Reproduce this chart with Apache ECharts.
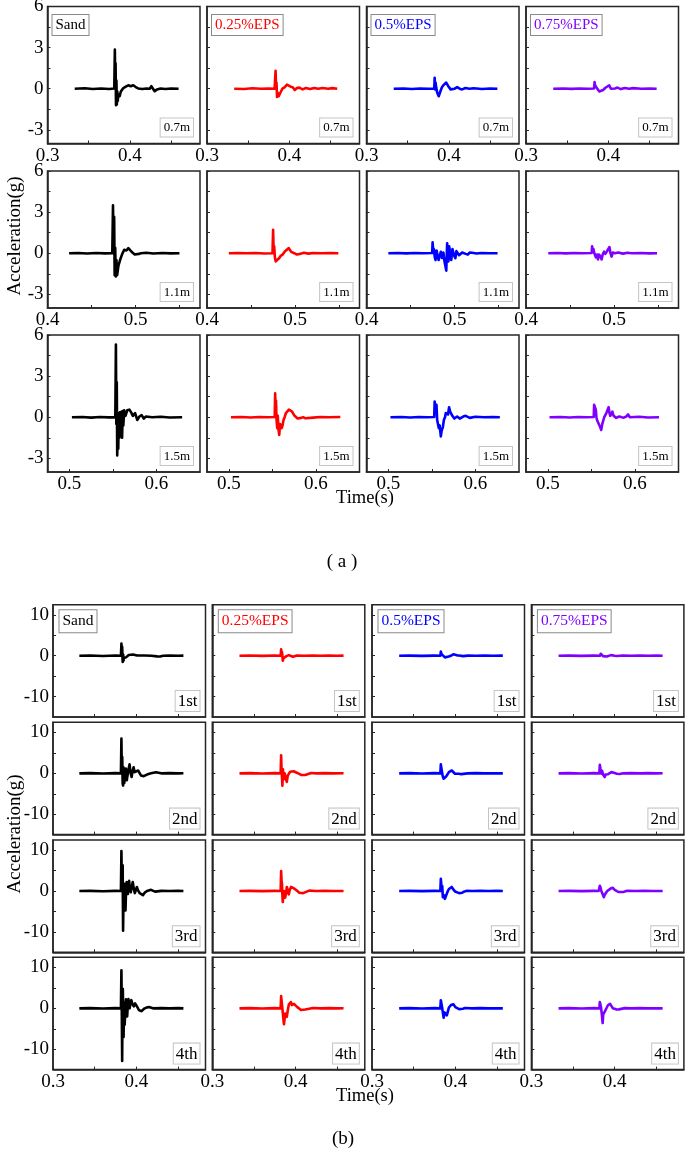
<!DOCTYPE html>
<html>
<head>
<meta charset="utf-8">
<style>
  html, body { margin: 0; padding: 0; background: #fff; }
  #main { width: 685px; height: 1156px; }
</style>
<script src="https://cdn.jsdelivr.net/npm/echarts@6.0.0/dist/echarts.min.js"></script>
</head>
<body>
<div id="main"></div>
<script>
// ---- data: [time (s), acceleration (g)] ----
// (a) depth 0.7m
const sand07 = [[0.333,0],[0.345,0.03],[0.355,-0.02],[0.365,0.02],[0.375,-0.02],[0.381,0.02],[0.3817,2.85],[0.3822,0.5],[0.3826,1.85],[0.3831,-1.2],[0.3836,0.6],[0.3841,-1.15],[0.3847,-0.2],[0.3852,-0.9],[0.386,-0.4],[0.3875,-0.55],[0.389,-0.2],[0.392,0.05],[0.395,0.15],[0.398,0.25],[0.401,0.18],[0.404,0.25],[0.407,0.12],[0.41,0.02],[0.415,-0.02],[0.42,0.02],[0.424,0],[0.426,0.18],[0.428,0],[0.43,-0.18],[0.433,-0.05],[0.437,0.02],[0.443,-0.02],[0.45,0.02],[0.459,0]]
const eps025_07 = [[0.333,0],[0.345,-0.02],[0.355,0.03],[0.365,0],[0.375,0.02],[0.382,0],[0.3832,1.3],[0.3838,0],[0.3843,0.45],[0.385,-0.6],[0.3858,-0.3],[0.387,-0.55],[0.389,-0.3],[0.3915,0],[0.394,0.1],[0.397,0.3],[0.399,0.35],[0.4015,0.15],[0.404,0.1],[0.4065,-0.1],[0.409,0.05],[0.412,0.08],[0.416,-0.05],[0.42,0.05],[0.425,-0.03],[0.43,0.05],[0.435,0],[0.44,0.05],[0.447,0],[0.452,0.04],[0.458,0]]
const eps05_07 = [[0.333,0],[0.345,0.02],[0.355,-0.02],[0.365,0.02],[0.375,0],[0.3822,0.02],[0.3827,0.8],[0.3833,-0.05],[0.3838,0.45],[0.3845,0.1],[0.3858,-0.3],[0.3876,-0.55],[0.389,-0.3],[0.3915,0.1],[0.394,0.3],[0.3967,0.45],[0.399,0.2],[0.402,-0.05],[0.404,-0.15],[0.407,0],[0.41,0.12],[0.413,0],[0.416,-0.05],[0.42,0.05],[0.425,0],[0.43,0.03],[0.44,-0.02],[0.45,0.02],[0.4588,0]]
const eps075_07 = [[0.333,0],[0.345,0.02],[0.355,-0.01],[0.365,0.02],[0.375,0],[0.3826,0.02],[0.3832,0.48],[0.3838,0.25],[0.385,0.2],[0.387,-0.05],[0.389,-0.2],[0.3913,-0.3],[0.3935,-0.1],[0.396,0.05],[0.398,-0.05],[0.401,0.25],[0.403,0],[0.405,0.12],[0.408,0.02],[0.411,0.08],[0.415,-0.03],[0.42,0.05],[0.425,0],[0.43,0.04],[0.44,0],[0.45,0.02],[0.4585,0]]
// (a) depth 1.1m
const sand11 = [[0.4245,0],[0.435,0.02],[0.445,-0.02],[0.455,0.02],[0.465,-0.01],[0.4735,0],[0.4743,3.5],[0.475,0.2],[0.4756,2.65],[0.4762,-1.6],[0.4768,0.4],[0.4775,-1.7],[0.4782,-0.5],[0.479,-1.6],[0.4805,-0.9],[0.4823,-0.5],[0.4845,-0.1],[0.487,0.25],[0.4895,0.2],[0.4917,0.37],[0.494,0.2],[0.4963,0.05],[0.499,-0.1],[0.501,-0.17],[0.5035,-0.05],[0.506,0],[0.512,0.03],[0.52,-0.02],[0.53,0.02],[0.54,-0.01],[0.5497,0]]
const eps025_11 = [[0.4248,0],[0.435,0.02],[0.445,0],[0.455,0.02],[0.465,-0.02],[0.4743,0],[0.475,1.7],[0.4756,0.1],[0.4762,0.5],[0.477,-0.3],[0.478,-0.6],[0.4801,-0.7],[0.482,-0.35],[0.4835,-0.2],[0.4858,-0.1],[0.4885,0.15],[0.4905,0.2],[0.4928,0.37],[0.4955,0.1],[0.499,0],[0.502,-0.1],[0.505,-0.05],[0.51,0.03],[0.515,-0.03],[0.52,0.02],[0.53,0],[0.54,0.02],[0.549,0]]
const eps05_11 = [[0.4248,0],[0.435,0.02],[0.445,-0.01],[0.455,0.02],[0.465,0],[0.4745,0.02],[0.475,0.8],[0.4758,0.1],[0.4764,0.3],[0.4775,-0.3],[0.4783,-0.5],[0.4795,0.2],[0.4807,0.25],[0.4818,-0.5],[0.483,-0.6],[0.4843,0.1],[0.4858,-0.35],[0.4872,0.05],[0.4885,-0.6],[0.4897,-0.5],[0.4905,-1.27],[0.4915,0.73],[0.4922,-0.3],[0.4929,-0.6],[0.4938,0.5],[0.4947,0.6],[0.4955,-0.2],[0.4961,-0.5],[0.4975,0.3],[0.4985,0.37],[0.4995,-0.2],[0.5008,-0.37],[0.502,0.15],[0.5032,0.25],[0.505,-0.15],[0.5065,-0.25],[0.5085,0.05],[0.5102,0.12],[0.5125,-0.05],[0.5149,-0.1],[0.517,0.05],[0.5196,0.03],[0.525,-0.02],[0.53,0.02],[0.54,0],[0.5487,0]]
const eps075_11 = [[0.4253,0],[0.435,0.02],[0.445,-0.01],[0.455,0.02],[0.465,0],[0.4745,0.02],[0.475,0.5],[0.4758,0.15],[0.4765,0.3],[0.4775,0],[0.4793,-0.3],[0.4805,-0.1],[0.4816,-0.45],[0.4828,-0.1],[0.484,0],[0.4848,-0.3],[0.4858,-0.45],[0.487,-0.1],[0.4886,0.12],[0.49,-0.05],[0.4915,0.1],[0.4932,0.3],[0.4947,0.45],[0.4958,0],[0.4971,-0.25],[0.4985,0.05],[0.4994,0.17],[0.501,0],[0.5027,-0.08],[0.5045,0.05],[0.5065,0.07],[0.51,-0.03],[0.515,0.03],[0.52,0],[0.53,0.02],[0.54,-0.01],[0.5487,0]]
// (a) depth 1.5m
const sand15 = [[0.503,0],[0.515,0.02],[0.525,-0.03],[0.535,0.02],[0.545,-0.01],[0.5528,0],[0.5535,5.3],[0.554,-0.5],[0.5545,2.55],[0.555,-2.8],[0.5556,-0.5],[0.5562,-2.3],[0.5568,0.3],[0.5575,-1.5],[0.5582,0.35],[0.559,-1.1],[0.5598,0.4],[0.5606,-1.5],[0.5613,0.45],[0.562,-0.6],[0.563,0.5],[0.5645,0.1],[0.5665,0.5],[0.569,0.55],[0.571,0.35],[0.573,0.1],[0.5755,0.3],[0.578,-0.2],[0.5805,0.05],[0.583,0.15],[0.5855,-0.1],[0.588,0.05],[0.595,0],[0.605,0.03],[0.615,-0.02],[0.6295,0]]
const eps025_15 = [[0.5025,0],[0.515,0.02],[0.525,-0.02],[0.535,0.02],[0.545,0],[0.5527,0.02],[0.5532,1.75],[0.5538,0.5],[0.5542,1.2],[0.5548,-0.2],[0.5556,-0.8],[0.5562,0.1],[0.5571,-0.9],[0.5579,-1.3],[0.5588,-0.5],[0.5598,-0.45],[0.5607,-0.8],[0.5617,-0.6],[0.5628,-0.2],[0.5641,0],[0.5655,0.3],[0.5675,0.35],[0.569,0.55],[0.5703,0.6],[0.572,0.45],[0.5736,0.3],[0.5755,0.1],[0.5769,0],[0.579,-0.1],[0.5807,-0.15],[0.583,-0.05],[0.5854,0],[0.588,-0.08],[0.5902,0.03],[0.597,-0.03],[0.605,0.02],[0.615,0],[0.628,0.02]]
const eps05_15 = [[0.5025,0],[0.515,0.02],[0.525,-0.02],[0.535,0.02],[0.545,0],[0.5527,0.02],[0.5532,1.15],[0.554,0.7],[0.5546,0.55],[0.5553,0.9],[0.5561,-0.2],[0.558,-0.8],[0.559,-0.6],[0.5603,-1.4],[0.5612,-1],[0.5627,-0.7],[0.5638,-0.2],[0.5651,0],[0.566,0.3],[0.5674,0.4],[0.5685,0.2],[0.5698,0.73],[0.571,0.4],[0.5722,0.45],[0.5735,0.1],[0.5745,0.15],[0.5758,-0.1],[0.5769,-0.15],[0.579,0.05],[0.5807,0],[0.582,-0.1],[0.584,-0.05],[0.586,0.05],[0.5888,0.1],[0.591,-0.03],[0.5935,-0.05],[0.6,0.03],[0.61,0],[0.62,0.02],[0.628,0]]
const eps075_15 = [[0.502,0],[0.515,0.02],[0.525,-0.02],[0.535,0.02],[0.545,0],[0.5527,0.02],[0.5532,0.9],[0.5542,0.8],[0.5551,0.55],[0.5558,0],[0.5565,-0.2],[0.5577,-0.3],[0.5589,-0.55],[0.56,-0.7],[0.5613,-0.93],[0.5625,-0.5],[0.5636,-0.45],[0.5648,0],[0.566,0.1],[0.5672,0.3],[0.5684,0.4],[0.5698,0.73],[0.5708,0.3],[0.5717,0.1],[0.573,0.25],[0.5741,0.4],[0.5755,0.1],[0.5769,0],[0.5785,-0.05],[0.5802,-0.08],[0.582,0.05],[0.5835,0.1],[0.585,0],[0.5873,-0.03],[0.59,0.05],[0.5921,0.2],[0.594,0],[0.5959,0],[0.605,0.03],[0.615,-0.02],[0.6276,0]]
// (b) 1st test
const sand1st = [[0.3316,0],[0.345,0.05],[0.36,-0.05],[0.375,0.05],[0.3815,0],[0.3821,3],[0.3826,0.5],[0.383,2.2],[0.3836,-1.5],[0.3842,0.3],[0.3847,-1.2],[0.385,-0.6],[0.3862,-0.5],[0.3875,-0.4],[0.389,0],[0.3909,0.2],[0.3933,0.35],[0.396,0.3],[0.3982,0.15],[0.401,0.05],[0.403,0],[0.41,0.05],[0.418,0],[0.4249,-0.15],[0.4285,-0.2],[0.4322,0],[0.44,0.05],[0.45,0],[0.4565,0.02]]
const eps025_1st = [[0.3326,0],[0.345,0.05],[0.36,-0.03],[0.375,0.05],[0.382,0],[0.3826,1.55],[0.3832,0.3],[0.3837,0.9],[0.3846,-1.2],[0.3855,-0.6],[0.387,-0.4],[0.389,-0.1],[0.3918,0.15],[0.394,0.1],[0.3967,-0.25],[0.399,-0.1],[0.4016,0.05],[0.41,0],[0.42,0.05],[0.43,0],[0.44,0.03],[0.45,0],[0.4575,0.02]]
const eps05_1st = [[0.3326,0],[0.345,0.03],[0.36,-0.03],[0.375,0.03],[0.382,0],[0.3826,1],[0.3835,0.4],[0.385,0.2],[0.3875,-0.4],[0.3899,-0.6],[0.392,-0.2],[0.3948,0],[0.3975,0.35],[0.3996,0.5],[0.402,0.1],[0.4045,0.05],[0.4093,-0.1],[0.415,0.02],[0.425,0],[0.435,0.03],[0.445,0],[0.457,0.02]]
const eps075_1st = [[0.3326,0],[0.345,0.03],[0.36,-0.02],[0.375,0.03],[0.3825,0],[0.3831,0.5],[0.3845,0.2],[0.386,-0.1],[0.388,-0.3],[0.3905,-0.2],[0.3928,0],[0.3955,0.15],[0.3977,0.15],[0.4,0],[0.4025,-0.05],[0.41,0.05],[0.42,0],[0.43,0.03],[0.44,0],[0.45,0.02],[0.4575,0]]
// (b) 2nd test
const sand2nd = [[0.3316,0],[0.345,0.05],[0.36,-0.05],[0.375,0.05],[0.3815,0],[0.3821,8.5],[0.3826,0],[0.3831,4],[0.3836,-2.5],[0.3841,-3],[0.3846,1.5],[0.385,1.5],[0.3855,-2.4],[0.386,-2.4],[0.3868,0.5],[0.3875,1.2],[0.3885,-1.7],[0.3894,-1.7],[0.3905,0.8],[0.3919,2.2],[0.393,0.2],[0.3943,-0.9],[0.3955,0.5],[0.3967,1.5],[0.398,0.3],[0.3991,0],[0.4021,0.7],[0.4055,-0.5],[0.4089,-0.7],[0.4128,-0.3],[0.4176,0],[0.4235,0.25],[0.4298,0],[0.44,0.05],[0.45,0],[0.4565,0.02]]
const eps025_2nd = [[0.3326,0],[0.345,0.05],[0.36,-0.03],[0.375,0.05],[0.382,0],[0.3826,4.4],[0.3831,1],[0.3836,-0.9],[0.3841,-3],[0.3848,1],[0.3855,-1.5],[0.386,-1.7],[0.3868,0],[0.3875,-0.5],[0.3885,-1.5],[0.3894,-2.1],[0.3905,-0.6],[0.3918,-0.1],[0.3935,0.4],[0.3957,0.7],[0.3975,0.5],[0.3991,0.5],[0.402,0.1],[0.404,0],[0.4065,-0.4],[0.4089,-0.6],[0.4115,-0.4],[0.4137,-0.2],[0.4186,0.1],[0.425,0],[0.435,0.05],[0.445,0],[0.4575,0.02]]
const eps05_2nd = [[0.3326,0],[0.345,0.05],[0.36,-0.03],[0.375,0.05],[0.382,0],[0.3826,2.2],[0.3833,1.2],[0.3841,0.2],[0.385,-0.8],[0.386,-1.3],[0.3875,-1],[0.3889,-0.8],[0.3905,-0.3],[0.3923,0.3],[0.394,0.6],[0.3957,0.7],[0.3975,0.3],[0.3996,-0.1],[0.402,-0.1],[0.4045,-0.1],[0.407,-0.2],[0.4093,-0.25],[0.415,0],[0.425,0.05],[0.435,0],[0.445,0.03],[0.457,0]]
const eps075_2nd = [[0.3326,0],[0.345,0.05],[0.36,-0.03],[0.375,0.05],[0.3815,0],[0.3821,2.1],[0.3828,1.2],[0.3835,1],[0.3841,-0.1],[0.3848,0.6],[0.3855,0.7],[0.3863,-0.4],[0.388,-0.9],[0.389,-0.3],[0.3904,0.1],[0.392,-0.2],[0.3938,0.1],[0.396,0.3],[0.3977,0.4],[0.4,0.1],[0.4025,-0.1],[0.406,-0.15],[0.41,0],[0.42,0.05],[0.43,0],[0.44,0.05],[0.45,0],[0.4575,0.02]]
// (b) 3rd test
const sand3rd = [[0.3316,0],[0.345,0.05],[0.36,-0.05],[0.375,0.05],[0.3815,0],[0.3821,9.8],[0.3826,2],[0.3831,0],[0.3836,6.3],[0.3841,-9.7],[0.3846,-2],[0.385,-3.1],[0.3855,1],[0.386,1.8],[0.3865,-2.5],[0.387,-4.75],[0.3877,0.5],[0.3884,2.2],[0.389,0],[0.3899,-0.7],[0.3906,1.5],[0.3914,2.5],[0.3922,0.5],[0.3933,-0.3],[0.3945,1],[0.3957,2.2],[0.397,0.5],[0.3982,-0.5],[0.3995,0.3],[0.4006,1],[0.402,0.2],[0.404,-0.5],[0.406,-0.7],[0.4079,-1],[0.41,-0.4],[0.4128,0],[0.4176,0.3],[0.4225,-0.15],[0.43,0.05],[0.44,0],[0.45,0.05],[0.4565,0]]
const eps025_3rd = [[0.3326,0],[0.345,0.05],[0.36,-0.03],[0.375,0.05],[0.382,0],[0.3826,4.9],[0.3831,2.5],[0.3836,1.8],[0.3841,-1],[0.3846,-2.7],[0.3852,-1],[0.386,0],[0.3868,-1],[0.3875,-1.6],[0.3885,-0.5],[0.3894,1],[0.3905,0.2],[0.3918,-0.8],[0.393,0.3],[0.3945,1],[0.3957,1.2],[0.3975,0.7],[0.3991,0.6],[0.401,0.2],[0.4025,0],[0.4045,-0.4],[0.4064,-0.65],[0.409,-0.5],[0.4113,-0.3],[0.4162,0.1],[0.425,0],[0.435,0.05],[0.445,0],[0.4575,0.02]]
const eps05_3rd = [[0.3326,0],[0.345,0.05],[0.36,-0.03],[0.375,0.05],[0.382,0],[0.3826,3],[0.3831,1.8],[0.3836,0.3],[0.3843,1.2],[0.385,-1.5],[0.3862,-1],[0.3875,-1.9],[0.3887,-1.2],[0.3899,-0.9],[0.391,0],[0.3923,0.5],[0.394,0.9],[0.3957,1],[0.3975,0.4],[0.3996,-0.1],[0.402,-0.4],[0.4045,-0.5],[0.4084,-0.4],[0.411,-0.1],[0.4142,0.05],[0.42,0],[0.43,0.05],[0.44,0],[0.45,0.03],[0.457,0]]
const eps075_3rd = [[0.3326,0],[0.345,0.05],[0.36,-0.03],[0.375,0.05],[0.3807,0],[0.3821,1.3],[0.383,0.8],[0.3838,0.1],[0.3846,-0.2],[0.3858,-0.9],[0.387,-1.5],[0.388,-0.9],[0.3894,-0.5],[0.391,0],[0.3928,0.3],[0.395,0.6],[0.3977,0.8],[0.4,0.3],[0.4025,0],[0.405,-0.25],[0.4074,-0.4],[0.411,-0.2],[0.415,0.05],[0.425,0],[0.435,0.05],[0.445,0],[0.4575,0.02]]
// (b) 4th test
const sand4th = [[0.3316,0],[0.345,0.05],[0.36,-0.05],[0.375,0.05],[0.3815,0],[0.3821,9.3],[0.3826,-2],[0.383,-12.9],[0.3834,0],[0.3838,4.8],[0.3843,-3],[0.3847,-7],[0.3852,1.5],[0.3856,0.5],[0.386,-4],[0.3867,-1],[0.3875,2.2],[0.3882,-0.5],[0.389,-2],[0.3897,0.5],[0.3905,2.3],[0.3912,0.8],[0.392,0],[0.393,1.2],[0.394,2],[0.3955,1],[0.397,0.5],[0.3985,1.2],[0.4,1],[0.4015,0.2],[0.403,-0.4],[0.406,-0.7],[0.408,-0.5],[0.41,0],[0.4125,0.2],[0.415,0.3],[0.42,0],[0.43,0.05],[0.44,0],[0.45,0.05],[0.4565,0]]
const eps025_4th = [[0.3326,0],[0.345,0.05],[0.36,-0.03],[0.375,0.05],[0.382,0],[0.3826,3],[0.3833,1.5],[0.3841,0],[0.385,-2],[0.386,-3.9],[0.3868,-2.5],[0.3875,-1.3],[0.3885,-1],[0.3894,-2.1],[0.3905,-0.6],[0.3918,0.9],[0.393,1.3],[0.3943,1.55],[0.3955,0.8],[0.3967,0.9],[0.398,1.1],[0.3991,1],[0.402,0.3],[0.404,0],[0.4065,-0.4],[0.4089,-0.5],[0.4115,-0.3],[0.4137,0],[0.421,0.1],[0.43,0],[0.44,0.05],[0.45,0],[0.4575,0.02]]
const eps05_4th = [[0.3326,0],[0.345,0.05],[0.36,-0.03],[0.375,0.05],[0.382,0],[0.3826,2],[0.3833,1.2],[0.3841,0.3],[0.385,-1],[0.386,-2.3],[0.387,-1],[0.388,-1.4],[0.3899,-1.7],[0.391,-0.8],[0.3923,0.2],[0.3935,0.5],[0.3948,0.8],[0.3977,1],[0.4,0.3],[0.4021,0],[0.4045,-0.2],[0.4069,-0.3],[0.409,-0.1],[0.4118,0.1],[0.42,0],[0.43,0.05],[0.44,0],[0.45,0.03],[0.457,0]]
const eps075_4th = [[0.3326,0],[0.345,0.05],[0.36,-0.03],[0.375,0.05],[0.3815,0],[0.3821,1.55],[0.3828,1],[0.3836,0.2],[0.3845,-1.5],[0.3855,-3.6],[0.3862,-1.5],[0.387,-1.2],[0.388,-0.8],[0.3889,-0.5],[0.3905,0.2],[0.3918,0.75],[0.393,1],[0.3943,1.1],[0.396,0.6],[0.3977,0],[0.4,-0.2],[0.4025,-0.3],[0.405,-0.25],[0.4074,-0.15],[0.412,0.05],[0.42,0],[0.43,0.05],[0.44,0],[0.45,0.03],[0.4575,0]]

// ---- labels, ranges and ticks ----
const groupNames = ['Sand', '0.25%EPS', '0.5%EPS', '0.75%EPS']
const groupColors = ['#000000', '#ff0000', '#0000ff', '#8000ff']
const depthNames = ['0.7m', '1.1m', '1.5m']
const testNames = ['1st', '2nd', '3rd', '4th']

const seriesA = [
  [sand07, eps025_07, eps05_07, eps075_07],
  [sand11, eps025_11, eps05_11, eps075_11],
  [sand15, eps025_15, eps05_15, eps075_15]
]
const seriesB = [
  [sand1st, eps025_1st, eps05_1st, eps075_1st],
  [sand2nd, eps025_2nd, eps05_2nd, eps075_2nd],
  [sand3rd, eps025_3rd, eps05_3rd, eps075_3rd],
  [sand4th, eps025_4th, eps05_4th, eps075_4th]
]

const xRangeA = [[0.3, 0.485], [0.4, 0.573], [0.475, 0.65]]
const xLabelA = [[0.3, 0.4], [0.4, 0.5], [0.5, 0.6]]
const xTickA = [[0.3, 0.35, 0.4, 0.45], [0.4, 0.45, 0.5, 0.55], [0.5, 0.55, 0.6]]
const yRangeA = [-4, 6]
const yLabelA = [-3, 0, 3, 6]
const yTickA = [-3, -1.5, 0, 1.5, 3, 4.5, 6]

const xRangeB = [0.3, 0.483]
const xLabelB = [0.3, 0.4]
const xTickB = [0.3, 0.35, 0.4, 0.45]
const yRangeB = [-15, 12.5]
const yLabelB = [-10, 0, 10]
const yTickB = [-10, -5, 0, 5, 10]

// ---- layout ----
const FONT = '"Liberation Serif", "Times New Roman", serif'
const AXIS_COLOR = '#262626'

const colLeftA = [47.5, 207, 366.5, 526], widthA = 152.5
const rowTopA = [6.5, 171, 335], heightA = 137
const colLeftB = [53, 212.3, 372, 531.4], widthB = 152.5
const rowTopB = [604.7, 722.3, 840, 957.3], heightB = 112.3

let grids = [], xAxes = [], yAxes = [], series = [], graphics = []

function boxText(text, x, y, color, size, align, vAlign, border, pad) {
  graphics.push({
    type: 'text', x: x, y: y, silent: true, z: 100,
    style: {
      text: text, fill: color, font: size + 'px ' + FONT,
      align: align, verticalAlign: vAlign,
      backgroundColor: '#fff', borderColor: border, borderWidth: 1, padding: pad
    }
  })
}

function plainText(text, x, y, size, rotation) {
  graphics.push({
    type: 'text', x: x, y: y, rotation: rotation || 0, silent: true, z: 100,
    style: { text: text, fill: '#000', font: size + 'px ' + FONT, align: 'center', verticalAlign: 'middle' }
  })
}

function addPanel(o) {
  const i = grids.length
  grids.push({
    left: o.left, top: o.top, width: o.width, height: o.height,
    show: true, borderColor: AXIS_COLOR, borderWidth: 1.5, backgroundColor: 'transparent',
    containLabel: false, outerBoundsMode: 'none'
  })
  xAxes.push({
    type: 'value', gridIndex: i, min: o.xRange[0], max: o.xRange[1],
    axisLine: { show: true, onZero: false, lineStyle: { color: AXIS_COLOR, width: 1.5 } },
    axisTick: { show: true, inside: true, length: 3, customValues: o.xTicks, lineStyle: { color: AXIS_COLOR } },
    axisLabel: {
      show: o.showX, customValues: o.xLabels, formatter: v => v.toFixed(1),
      fontFamily: FONT, fontSize: 19, color: '#000', margin: 3
    },
    splitLine: { show: false }
  })
  yAxes.push({
    type: 'value', gridIndex: i, min: o.yRange[0], max: o.yRange[1],
    axisLine: { show: true, onZero: false, lineStyle: { color: AXIS_COLOR, width: 1.5 } },
    axisTick: { show: true, inside: true, length: 3, customValues: o.yTicks, lineStyle: { color: AXIS_COLOR } },
    axisLabel: {
      show: o.showY, customValues: o.yLabels, formatter: v => String(v),
      fontFamily: FONT, fontSize: 19, color: '#000', margin: 4
    },
    splitLine: { show: false }
  })
  series.push({
    type: 'line', xAxisIndex: i, yAxisIndex: i, data: o.data,
    showSymbol: false, symbol: 'none', silent: true, clip: true,
    lineStyle: { color: o.color, width: 2.6, join: 'round' }, itemStyle: { color: o.color }
  })
}

// (a) three depths
for (let r = 0; r < 3; r++) {
  for (let c = 0; c < 4; c++) {
    const left = colLeftA[c], top = rowTopA[r]
    addPanel({
      left: left, top: top, width: widthA, height: heightA,
      xRange: xRangeA[r], xTicks: xTickA[r], xLabels: xLabelA[r], showX: true,
      yRange: yRangeA, yTicks: yTickA, yLabels: yLabelA, showY: c === 0,
      data: seriesA[r][c], color: groupColors[c]
    })
    if (r === 0) boxText(groupNames[c], left + 5, top + 8.5, groupColors[c], 15, 'left', 'top', '#8a8a8a', [3, 3, 2, 3])
    boxText(depthNames[r], left + widthA - 7, top + heightA - 7, '#000', 13, 'right', 'bottom', '#c4c4c4', [3, 3, 2, 3])
  }
}

// (b) four tests
for (let r = 0; r < 4; r++) {
  for (let c = 0; c < 4; c++) {
    const left = colLeftB[c], top = rowTopB[r]
    addPanel({
      left: left, top: top, width: widthB, height: heightB,
      xRange: xRangeB, xTicks: xTickB, xLabels: xLabelB, showX: r === 3,
      yRange: yRangeB, yTicks: yTickB, yLabels: yLabelB, showY: c === 0,
      data: seriesB[r][c], color: groupColors[c]
    })
    if (r === 0) boxText(groupNames[c], left + 6.5, top + 5.5, groupColors[c], 15.5, 'left', 'top', '#8a8a8a', [3, 3, 3, 3])
    boxText(testNames[r], left + widthB - 6, top + heightB - 6, '#000', 17, 'right', 'bottom', '#c4c4c4', [2, 2, 1, 2])
  }
}

plainText('Acceleration(g)', 15, 236, 19, Math.PI / 2)
plainText('Time(s)', 365, 498, 18.5)
plainText('( a )', 342, 562, 19)
plainText('Acceleration(g)', 15, 834, 19, Math.PI / 2)
plainText('Time(s)', 365, 1096, 18.5)
plainText('(b)', 343, 1139, 19)

const chart = echarts.init(document.getElementById('main'), null, { renderer: 'canvas' })
chart.setOption({
  animation: false,
  backgroundColor: '#fff',
  grid: grids,
  xAxis: xAxes,
  yAxis: yAxes,
  series: series,
  graphic: graphics
})
</script>
</body>
</html>
